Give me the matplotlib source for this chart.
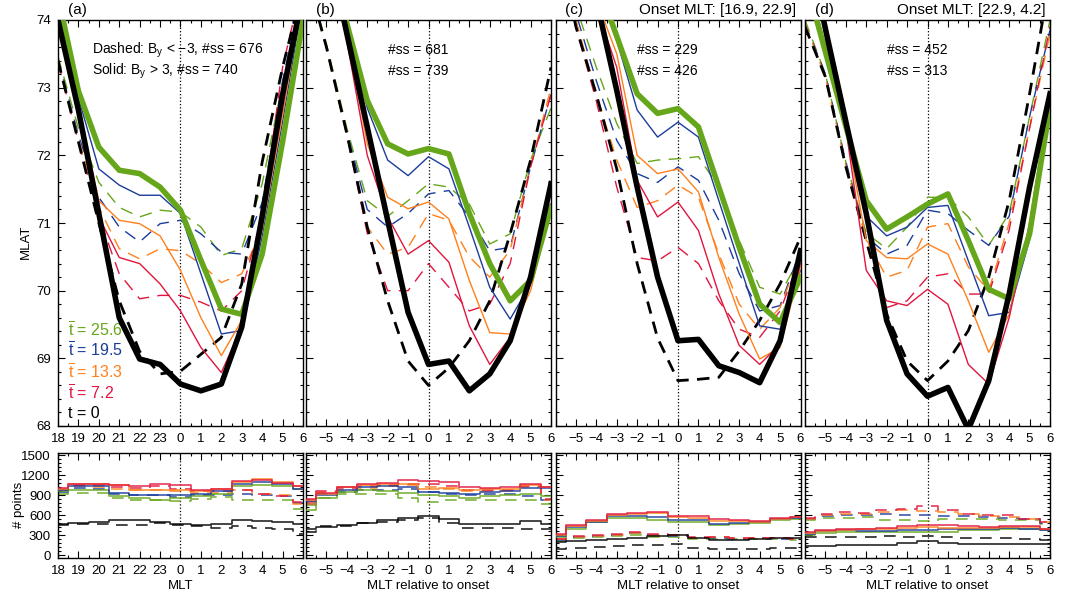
import numpy as np
import matplotlib
matplotlib.use("Agg")
import matplotlib.pyplot as plt
from matplotlib.ticker import MultipleLocator, FixedLocator

plt.rcParams['font.family'] = ['Liberation Sans', 'DejaVu Sans']
plt.rcParams['mathtext.fontset'] = 'custom'
plt.rcParams['mathtext.rm'] = 'Liberation Sans'
plt.rcParams['mathtext.it'] = 'Liberation Sans:italic'

# ---------------- data ----------------
x_mlt = [18, 19, 20, 21, 22, 23, 24, 25, 26, 27, 28, 29, 30]
mlt_tick_labels = ['18', '19', '20', '21', '22', '23', '0', '1', '2', '3', '4', '5', '6']
x_rel = [-6, -5, -4, -3, -2, -1, 0, 1, 2, 3, 4, 5, 6]
rel_tick_labels = ['', '\u22125', '\u22124', '\u22123', '\u22122', '\u22121', '0', '1', '2', '3', '4', '5', '6']

t_labels = ['25.6', '19.5', '13.3', '7.2', '0']
series_colors = ['#66a61a', '#1c3c9c', '#ff801c', '#e0163e', '#000000']

panel_tags = ['(a)', '(b)', '(c)', '(d)']
panel_titles = ['', '', 'Onset MLT: [16.9, 22.9]', 'Onset MLT: [22.9, 4.2]']
ss_dashed = [676, 681, 229, 452]
ss_solid = [740, 739, 426, 313]

# MLAT, rows ordered as t_labels (25.6, 19.5, 13.3, 7.2, 0)
mlat_a_solid = [
    [74.35, 72.95, 72.12, 71.78, 71.73, 71.53, 71.19, 70.45, 69.73, 69.65, 70.54, 72.2, 74.0],
    [74.2, 72.85, 71.8, 71.56, 71.41, 71.41, 71.14, 70.25, 69.36, 69.41, 70.8, 72.5, 74.3],
    [74.15, 72.7, 71.33, 71.04, 70.99, 70.81, 70.3, 69.6, 69.04, 69.56, 70.9, 72.6, 74.4],
    [74.1, 72.6, 71.09, 70.49, 70.4, 70.1, 69.7, 69.16, 68.79, 69.46, 71.0, 72.7, 74.5],
    [74.0, 72.67, 71.14, 69.6, 68.99, 68.91, 68.62, 68.52, 68.62, 69.46, 71.1, 72.9, 74.4],
]
mlat_a_dashed = [
    [73.46, 72.4, 71.6, 71.23, 71.09, 71.19, 71.16, 70.94, 70.52, 70.62, 71.58, 73.06, 74.5],
    [73.42, 72.3, 71.38, 70.94, 70.72, 70.99, 71.04, 70.84, 70.57, 70.54, 71.3, 73.1, 74.5],
    [73.4, 72.25, 71.23, 70.62, 70.47, 70.62, 70.59, 70.4, 70.12, 70.25, 70.9, 72.8, 74.5],
    [73.38, 72.2, 71.09, 70.25, 69.88, 69.93, 69.93, 69.83, 69.7, 70.0, 71.1, 73.3, 74.6],
    [73.4, 72.2, 71.0, 69.85, 69.1, 68.77, 68.81, 69.06, 69.31, 70.1, 71.9, 73.3, 74.5],
]
mlat_b_solid = [
    [76.5, 75.3, 73.95, 72.81, 72.17, 72.02, 72.1, 72.02, 71.14, 70.4, 69.85, 70.15, 71.23],
    [76.5, 75.2, 73.9, 72.7, 71.93, 71.7, 71.98, 71.8, 70.94, 70.05, 69.58, 70.1, 71.28],
    [76.4, 75.1, 73.8, 72.17, 71.38, 71.21, 71.31, 71.06, 70.15, 69.38, 69.36, 70.0, 71.23],
    [76.3, 75.0, 73.7, 72.0, 71.09, 70.54, 70.74, 70.42, 69.48, 68.91, 69.31, 70.1, 71.28],
    [76.5, 75.2, 73.8, 72.42, 71.04, 69.68, 68.91, 68.96, 68.52, 68.77, 69.26, 70.2, 71.58],
]
mlat_b_dashed = [
    [74.7, 73.65, 72.4, 71.33, 71.1, 71.33, 71.58, 71.53, 71.28, 70.69, 70.84, 71.93, 72.7],
    [74.7, 73.6, 72.35, 71.2, 70.94, 71.14, 71.43, 71.48, 71.09, 70.59, 70.64, 71.83, 72.9],
    [74.7, 73.6, 72.3, 70.94, 70.54, 70.64, 71.14, 71.04, 70.5, 70.2, 70.6, 71.83, 73.0],
    [74.7, 73.6, 72.3, 70.85, 70.0, 70.0, 70.4, 70.05, 69.7, 69.8, 70.4, 71.83, 72.9],
    [74.7, 73.6, 72.32, 70.94, 69.85, 68.96, 68.6, 68.86, 69.26, 69.85, 70.84, 71.93, 73.3],
]
mlat_c_solid = [
    [77.0, 75.8, 74.6, 73.76, 72.91, 72.62, 72.69, 72.42, 71.53, 70.64, 69.8, 69.53, 70.2],
    [77.0, 75.8, 74.5, 73.7, 72.67, 72.27, 72.49, 72.27, 71.33, 70.4, 69.48, 69.43, 70.3],
    [77.0, 75.6, 74.3, 73.5, 72.0, 71.73, 71.8, 71.46, 70.49, 69.65, 68.99, 69.16, 70.35],
    [77.0, 75.5, 74.2, 73.3, 71.63, 71.09, 71.31, 70.89, 69.95, 69.19, 68.91, 69.21, 70.4],
    [77.0, 75.5, 74.3, 72.96, 71.53, 70.2, 69.26, 69.28, 68.89, 68.79, 68.64, 69.26, 70.59],
]
mlat_c_dashed = [
    [75.5, 74.2, 73.3, 72.47, 71.88, 71.93, 71.95, 71.98, 71.53, 70.74, 70.05, 69.95, 70.5],
    [75.4, 74.1, 73.1, 72.22, 71.73, 71.6, 71.83, 71.63, 71.04, 70.25, 69.7, 69.78, 70.6],
    [75.3, 74.0, 72.9, 71.93, 71.23, 71.33, 71.56, 71.38, 70.54, 69.8, 69.43, 69.75, 70.55],
    [75.3, 73.9, 72.8, 71.53, 70.49, 70.44, 70.64, 70.4, 69.85, 69.43, 69.31, 69.7, 70.5],
    [75.3, 73.9, 72.9, 71.8, 70.4, 69.3, 68.67, 68.69, 68.72, 69.11, 69.56, 70.1, 70.79],
]
mlat_d_solid = [
    [74.63, 73.53, 72.43, 71.33, 70.91, 71.09, 71.28, 71.43, 70.74, 70.02, 69.88, 70.84, 72.72],
    [74.7, 73.6, 72.45, 71.1, 70.81, 70.94, 71.23, 71.26, 70.44, 69.63, 69.68, 70.75, 72.8],
    [74.8, 73.6, 72.4, 70.74, 70.49, 70.47, 70.69, 70.54, 69.85, 69.09, 69.65, 70.9, 72.85],
    [74.8, 73.6, 72.4, 70.3, 69.85, 69.78, 70.02, 69.8, 68.91, 68.62, 69.6, 71.0, 72.9],
    [75.3, 73.87, 72.5, 71.14, 69.56, 68.77, 68.44, 68.57, 67.95, 68.67, 69.95, 71.53, 72.91],
]
mlat_d_dashed = [
    [74.0, 73.2, 71.9, 70.85, 70.62, 70.94, 71.38, 71.38, 71.09, 70.67, 71.14, 72.57, 74.0],
    [73.95, 73.2, 71.9, 70.8, 70.54, 70.67, 71.19, 71.14, 70.89, 70.67, 71.1, 72.57, 73.85],
    [73.95, 73.15, 71.85, 70.75, 70.2, 70.3, 70.94, 70.99, 70.35, 70.0, 71.0, 72.4, 73.8],
    [73.9, 73.15, 71.85, 70.7, 69.75, 69.85, 70.2, 70.25, 69.95, 69.95, 70.9, 72.4, 73.9],
    [73.9, 73.16, 71.83, 70.74, 69.65, 68.96, 68.67, 68.96, 69.41, 70.2, 71.33, 72.91, 74.6],
]

# number of points, rows ordered as t_labels
npts_a_solid = [
    [965, 985, 985, 885, 865, 825, 860, 885, 925, 1035, 1060, 1040, 1000],
    [985, 1040, 1040, 940, 900, 910, 910, 925, 965, 1075, 1100, 1075, 1000],
    [1000, 1075, 1075, 1050, 975, 975, 985, 965, 1000, 1100, 1140, 1100, 1040],
    [1010, 1075, 1075, 1060, 1040, 1065, 1050, 985, 1000, 1110, 1125, 1090, 1040],
    [465, 490, 500, 525, 525, 500, 475, 450, 475, 525, 515, 500, 475],
]
npts_a_dashed = [
    [915, 935, 935, 865, 835, 825, 810, 850, 875, 835, 835, 825, 700],
    [950, 1010, 1000, 925, 900, 900, 875, 900, 900, 915, 910, 885, 785],
    [975, 1040, 1025, 1000, 975, 985, 960, 935, 935, 975, 925, 900, 775],
    [985, 1060, 1050, 1025, 1010, 1035, 1000, 965, 965, 985, 925, 885, 800],
    [460, 475, 475, 460, 460, 485, 460, 440, 415, 435, 415, 400, 325],
]
npts_b_solid = [
    [675, 865, 950, 975, 965, 935, 900, 885, 865, 885, 900, 925, 885],
    [810, 910, 975, 1025, 1035, 1025, 950, 935, 915, 950, 965, 1010, 1010],
    [825, 925, 1025, 1060, 1075, 1075, 1000, 1015, 975, 990, 1000, 1050, 1025],
    [850, 935, 1025, 1065, 1090, 1125, 1110, 1100, 1025, 1010, 1025, 1075, 1025],
    [400, 425, 450, 485, 525, 560, 585, 540, 465, 475, 465, 510, 475],
]
npts_b_dashed = [
    [750, 865, 925, 925, 925, 865, 800, 835, 835, 835, 835, 825, 775],
    [775, 925, 950, 985, 975, 1000, 950, 915, 910, 925, 925, 885, 825],
    [775, 950, 985, 1010, 1035, 1050, 1025, 990, 965, 965, 965, 1025, 825],
    [800, 965, 1010, 1040, 1060, 1075, 1075, 1040, 985, 975, 985, 1035, 850],
    [350, 435, 435, 485, 500, 525, 565, 485, 415, 410, 410, 400, 400],
]
npts_c_solid = [
    [275, 400, 495, 565, 565, 525, 505, 495, 450, 475, 490, 535, 550],
    [285, 425, 505, 585, 595, 575, 525, 525, 475, 485, 500, 540, 560],
    [300, 445, 515, 610, 625, 635, 575, 565, 515, 515, 505, 545, 570],
    [325, 450, 525, 615, 635, 645, 595, 590, 540, 525, 510, 555, 575],
    [200, 210, 235, 250, 265, 290, 305, 265, 235, 235, 240, 255, 260],
]
npts_c_dashed = [
    [220, 255, 270, 290, 310, 280, 275, 245, 250, 240, 245, 245, 235],
    [235, 270, 285, 300, 330, 300, 290, 255, 265, 250, 255, 250, 240],
    [240, 275, 290, 310, 340, 305, 300, 265, 270, 255, 255, 255, 240],
    [250, 285, 300, 325, 350, 315, 310, 275, 280, 260, 265, 260, 245],
    [100, 115, 125, 135, 150, 160, 165, 115, 90, 90, 100, 110, 115],
]
npts_d_solid = [
    [310, 340, 355, 355, 355, 345, 355, 350, 375, 385, 395, 400, 375],
    [325, 360, 375, 365, 365, 385, 385, 400, 400, 400, 405, 400, 385],
    [340, 365, 385, 400, 400, 415, 425, 415, 415, 415, 425, 425, 390],
    [350, 375, 400, 400, 415, 435, 450, 450, 435, 425, 435, 435, 400],
    [135, 140, 150, 155, 160, 185, 210, 190, 175, 175, 175, 175, 165],
]
npts_d_dashed = [
    [525, 565, 565, 575, 535, 525, 510, 540, 540, 540, 525, 525, 475],
    [540, 590, 600, 610, 615, 600, 600, 590, 585, 575, 560, 540, 485],
    [550, 600, 625, 615, 650, 675, 665, 650, 615, 585, 575, 545, 495],
    [565, 615, 650, 635, 675, 690, 735, 675, 625, 600, 600, 550, 500],
    [275, 275, 275, 275, 285, 275, 285, 275, 260, 265, 255, 250, 225],
]

mlat_solid = [mlat_a_solid, mlat_b_solid, mlat_c_solid, mlat_d_solid]
mlat_dashed = [mlat_a_dashed, mlat_b_dashed, mlat_c_dashed, mlat_d_dashed]
npts_solid = [npts_a_solid, npts_b_solid, npts_c_solid, npts_d_solid]
npts_dashed = [npts_a_dashed, npts_b_dashed, npts_c_dashed, npts_d_dashed]

# ---------------- figure ----------------
W, H = 1070, 595
fig = plt.figure(figsize=(W / 100, H / 100), dpi=100)


def rect(l, t, r, b):
    return [l / W, 1 - b / H, (r - l) / W, (b - t) / H]


lefts = [58, 306, 555.5, 805]
pw = 245
FS = 9.5


def style_axis(ax, xs, labels):
    ax.set_xlim(xs[0], xs[-1])
    ax.xaxis.set_major_locator(FixedLocator(xs))
    ax.set_xticklabels(labels)
    ax.xaxis.set_minor_locator(MultipleLocator(0.5))
    ax.tick_params(which='both', direction='in', top=True, right=True,
                   labelsize=FS, width=0.8, pad=5)
    ax.tick_params(which='major', length=5)
    ax.tick_params(which='minor', length=2.5)
    for s in ax.spines.values():
        s.set_linewidth(1.0)


for p in range(4):
    xs = x_mlt if p == 0 else x_rel
    labels = mlt_tick_labels if p == 0 else rel_tick_labels
    zero = 24 if p == 0 else 0
    l = lefts[p]

    # ---- top panel ----
    ax = fig.add_axes(rect(l, 20, l + pw, 426))
    ax.set_ylim(68, 74)
    ax.axvline(zero, color='k', ls=':', lw=0.9, zorder=1)
    for k in range(4):
        ax.plot(xs, mlat_dashed[p][k], color=series_colors[k], lw=1.0,
                dashes=(9, 6), zorder=2)
    ax.plot(xs, mlat_dashed[p][4], color='k', lw=2.0, dashes=(4.5, 3), zorder=3)
    for k in range(1, 4):
        ax.plot(xs, mlat_solid[p][k], color=series_colors[k], lw=1.0, zorder=4)
    ax.plot(xs, mlat_solid[p][0], color=series_colors[0], lw=4.0, zorder=5)
    ax.plot(xs, mlat_solid[p][4], color='k', lw=4.0, zorder=6)
    style_axis(ax, xs, labels)
    ax.yaxis.set_major_locator(FixedLocator([68, 69, 70, 71, 72, 73, 74]))
    ax.yaxis.set_minor_locator(MultipleLocator(0.2))
    if p == 0:
        ax.set_yticklabels(['68', '69', '70', '71', '72', '73', '74'])
        ax.text(0.139, 0.926, 'Dashed: B$_\\mathrm{y}$ < \u22123, #ss = %d' % ss_dashed[p],
                transform=ax.transAxes, fontsize=10, va='center', ha='left')
        ax.text(0.139, 0.874, 'Solid: B$_\\mathrm{y}$ > 3, #ss = %d' % ss_solid[p],
                transform=ax.transAxes, fontsize=10, va='center', ha='left')
        ys = [0.2365, 0.185, 0.133, 0.081, 0.030]
        for k in range(5):
            lab = ('$\\overline{\\mathrm{t}}$ = ' if k < 4 else 't = ') + t_labels[k]
            ax.text(0.04, ys[k], lab, transform=ax.transAxes, color=series_colors[k],
                    fontsize=11.5, va='center', ha='left')
    else:
        ax.set_yticklabels([])
        ax.text(0.334, 0.926, '#ss = %d' % ss_dashed[p], transform=ax.transAxes,
                fontsize=10, va='center', ha='left')
        ax.text(0.334, 0.874, '#ss = %d' % ss_solid[p], transform=ax.transAxes,
                fontsize=10, va='center', ha='left')

    fig.text((l + 10) / W, 1 - 10 / H, panel_tags[p], fontsize=11, va='center', ha='left')
    if panel_titles[p]:
        fig.text((l + pw - 4) / W, 1 - 10 / H, panel_titles[p], fontsize=11,
                 va='center', ha='right')

    # ---- bottom panel ----
    bx = fig.add_axes(rect(l, 452.5, l + pw, 558))
    bx.set_ylim(-40, 1540)
    bx.axvline(zero, color='k', ls=':', lw=0.9, zorder=1)
    for k in [4, 0, 1, 2, 3]:
        c = series_colors[k]
        bx.plot(xs, npts_dashed[p][k], color=c, lw=1.2, dashes=(7, 5),
                drawstyle='steps-mid', alpha=0.85, zorder=2)
        bx.plot(xs, npts_solid[p][k], color=c, lw=1.2,
                drawstyle='steps-mid', alpha=0.85, zorder=3)
    style_axis(bx, xs, labels)
    bx.yaxis.set_major_locator(FixedLocator([0, 300, 600, 900, 1200, 1500]))
    bx.yaxis.set_minor_locator(MultipleLocator(60))
    if p == 0:
        bx.set_yticklabels(['0', '300', '600', '900', '1200', '1500'])
        bx.set_xlabel('MLT', fontsize=9.5, labelpad=2)
    else:
        bx.set_yticklabels([])
        bx.set_xlabel('MLT relative to onset', fontsize=9.5, labelpad=2)

fig.text(26 / W, 1 - 242 / H, 'MLAT', rotation=90, fontsize=9.5, va='center', ha='center')
fig.text(19 / W, 1 - 505 / H, '# points', rotation=90, fontsize=9.5, va='center', ha='center')

fig.savefig('out.png', dpi=100)
